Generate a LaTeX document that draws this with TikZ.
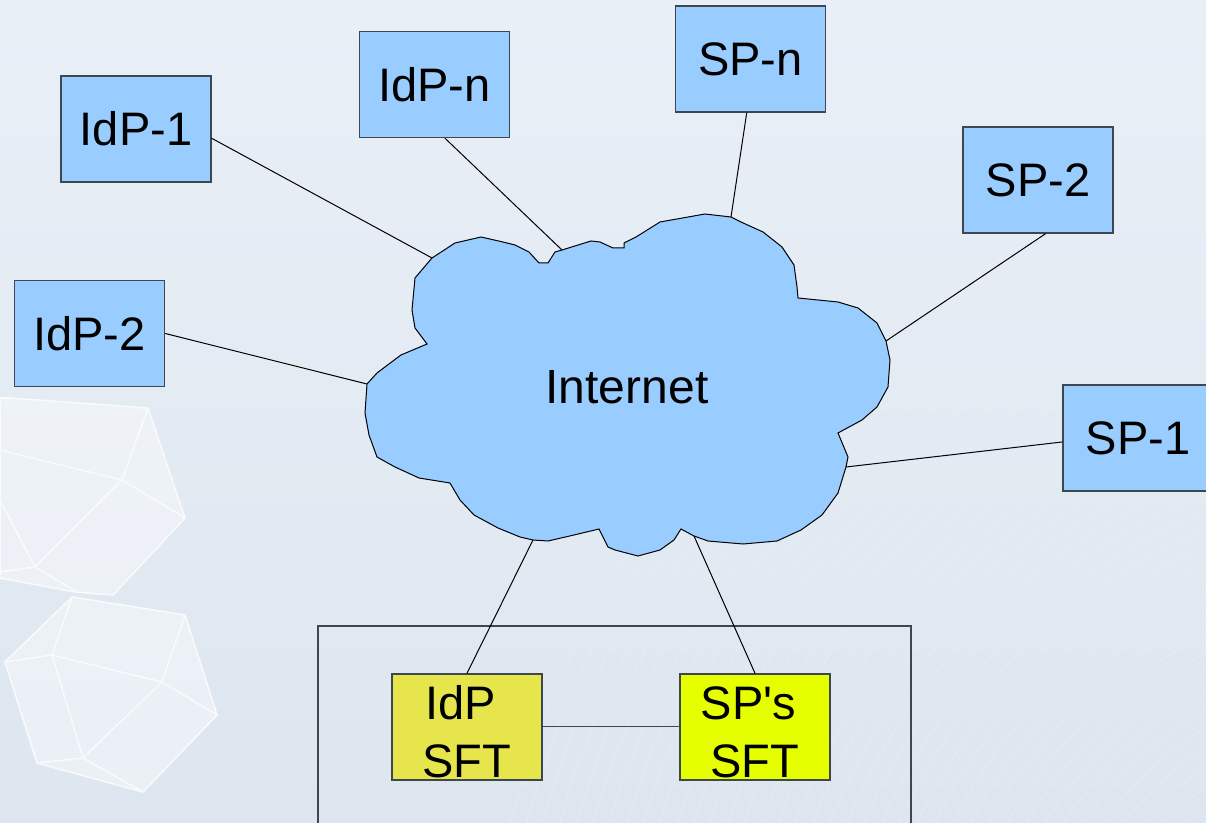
\documentclass[tikz,border=0pt]{standalone}
\usepackage{fontspec}
\setmainfont{Liberation Sans}[Ligatures=TeXOff]
\usetikzlibrary{positioning}

\definecolor{bgtop}{HTML}{E9EFF7}
\definecolor{bgbot}{HTML}{DDE6EF}
\definecolor{boxblue}{HTML}{99CCFF}
\definecolor{boxedge}{HTML}{3E4650}
\definecolor{sftdull}{HTML}{E6E64C}
\definecolor{sftlime}{HTML}{E6FF00}

\tikzset{
  party/.style={draw=boxedge, fill=boxblue, line width=0.7pt,
    minimum width=75pt, minimum height=53pt, inner sep=0pt,
    font=\fontsize{23.5}{28.8}\selectfont},
  sft/.style={party, align=center, text height=50pt, text depth=0pt},
  link/.style={draw=black, line width=0.5pt},
  facet/.style={draw=white!80!bgbot, fill=white, fill opacity=.4, line width=0.8pt},
}

\begin{document}
\begin{tikzpicture}[x=0.5pt,y=-0.5pt]
\useasboundingbox (0,0) rectangle (1206,823);
\clip (0,0) rectangle (1206,823);
\shade[top color=bgtop, bottom color=bgbot] (0,0) rectangle (1206,823);

% faint backdrop
\begin{scope}
\clip (330,380) rectangle (1206,823);
\foreach \r in {300,316,...,940}
    \draw[white, opacity=.12, line width=0.8pt] (1420,1060) circle (\r);
\end{scope}

\draw[facet] (10,398) -- (148,408) -- (185,518) -- (113,595) -- (75,592) -- (0,578) -- (0,398) -- cycle;
\draw[white!80!bgbot, line width=0.8pt] (0,450) -- (122,480) -- (148,408);
\draw[white!80!bgbot, line width=0.8pt] (122,480) -- (185,518);
\draw[white!80!bgbot, line width=0.8pt] (122,480) -- (35,567) -- (77,592);
\draw[white!80!bgbot, line width=0.8pt] (0,500) -- (35,567) -- (0,572);

\draw[facet] (72,597) -- (185,615) -- (217,715) -- (143,792) -- (37,763) -- (5,662) -- cycle;
\draw[white!80!bgbot, line width=0.8pt] (5,662) -- (52,655) -- (162,682) -- (185,615);
\draw[white!80!bgbot, line width=0.8pt] (52,655) -- (72,597);
\draw[white!80!bgbot, line width=0.8pt] (52,655) -- (83,758) -- (143,792);
\draw[white!80!bgbot, line width=0.8pt] (37,763) -- (83,758) -- (162,682) -- (217,715);

% the cloud
\filldraw[fill=boxblue, draw=black, line width=0.5pt]
  (432,258) coordinate (cl-idp1) -- (415,278) -- (412,310) -- (415,328) -- (427,344)
  -- (401,355) -- (377,373) -- (367,384) coordinate (cl-idp2) -- (365,413) -- (369,435)
  -- (377,457) -- (395,467) -- (419,478) -- (450,483)
  -- (460,500) -- (474,515) -- (498,528) -- (520,537) -- (533,540) coordinate (cl-idpsft)
  -- (548,541) -- (574,535) -- (599,529)
  -- (608,547) -- (615,550) -- (638,556) -- (660,550) -- (674,540) -- (681,529)
  -- (694,536) coordinate (cl-spsft) -- (708,541) -- (743,544) -- (777,541) -- (801,530)
  -- (822,515) -- (838,493) -- (846,467) coordinate (cl-sp1) -- (848,457) -- (838,433)
  -- (862,420) -- (877,407) -- (888,387) -- (890,360) -- (886,341) coordinate (cl-sp2)
  -- (877,323) -- (858,308) -- (838,302) -- (798,298)
  -- (797,287) -- (794,265) -- (782,247) -- (763,232) -- (741,222) -- (731,217) coordinate (cl-spn)
  -- (705,214) -- (660,222) -- (636,237) -- (624,243) -- (624,248)
  -- (613,248) -- (600,242) -- (591,241) -- (562,250) coordinate (cl-idpn) -- (555,252)
  -- (548,263) -- (539,263)
  -- (529,252) -- (515,245) -- (503,242) -- (481,237) -- (455,243) -- cycle;
\node[font=\fontsize{24}{28.8}\selectfont] (inet) at (627,387) {Internet};

% providers
\node[party] (idp1) at (136,129) {IdP-1};
\node[party] (idp2) at (89.5,333.5) {IdP-2};
\node[party] (idpn) at (434.5,84.5) {IdP-n};
\node[party] (spn) at (750.5,59) {SP-n};
\node[party] (sp2) at (1038,180) {SP-2};
\node[party] (sp1) at (1138,438) {SP-1};

% file transfer site
\node[draw=boxedge, line width=0.7pt, minimum width=296.5pt, minimum height=110pt,
      inner sep=0pt] (site) at (614.5,736) {};
\node[sft, fill=sftdull] (idpsft) at (467,727) {IdP\kern.28em\\SFT};
\node[sft, fill=sftlime] (spsft) at (755,727) {SP's\kern.28em\\SFT};

\draw[link] (idp1.-7) -- (cl-idp1);
\draw[link] (idp2.east) -- (cl-idp2);
\draw[link] (idpn.-79) -- (cl-idpn);
\draw[link] (spn.-94) -- (cl-spn);
\draw[link] (sp2.-82) -- (cl-sp2);
\draw[link] (sp1.183) -- (cl-sp1);
\draw[link] (idpsft.north) -- (cl-idpsft);
\draw[link] (spsft.north) -- (cl-spsft);
\draw[link, draw=boxedge] (idpsft) -- (spsft);

\end{tikzpicture}
\end{document}
